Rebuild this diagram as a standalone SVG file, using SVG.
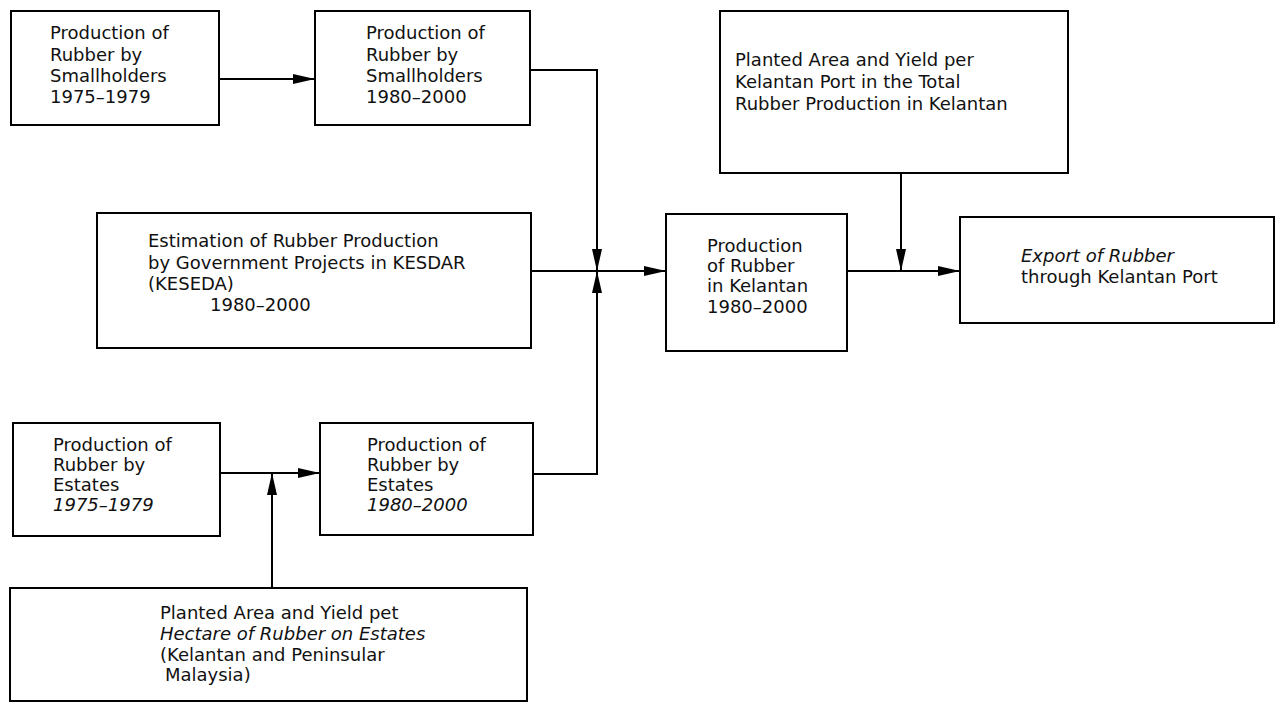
<svg xmlns="http://www.w3.org/2000/svg" width="1279" height="703" viewBox="0 0 1279 703">
<style>
.box{fill:#fff;stroke:#000;stroke-width:2}
.t{font-family:"DejaVu Sans","Liberation Sans",sans-serif;font-size:18px;fill:#111}
.i{font-style:italic}
.c{fill:none;stroke:#000;stroke-width:2}
</style>
<defs>
<marker id="ah" markerUnits="userSpaceOnUse" markerWidth="24" markerHeight="12" refX="22" refY="5" orient="auto">
<path d="M0,0 L22,5 L0,10 z" fill="#000"/>
</marker>
</defs>
<rect width="1279" height="703" fill="#fff"/>
<g id="connectors">
<path class="c" d="M219,79 H315" marker-end="url(#ah)"/>
<path class="c" d="M530,70 H597 V271" marker-end="url(#ah)"/>
<path class="c" d="M531,271 H666" marker-end="url(#ah)"/>
<path class="c" d="M533,474 H597 V271" marker-end="url(#ah)"/>
<path class="c" d="M220,473 H320" marker-end="url(#ah)"/>
<path class="c" d="M272,588 V473" marker-end="url(#ah)"/>
<path class="c" d="M847,271 H960" marker-end="url(#ah)"/>
<path class="c" d="M901,173 V271" marker-end="url(#ah)"/>
</g>
<g id="n1">
<rect class="box" x="11" y="11" width="208" height="114"/>
<text class="t" x="50" y="39">Production of</text>
<text class="t" x="50" y="61">Rubber by</text>
<text class="t" x="50" y="82">Smallholders</text>
<text class="t" x="50" y="103">1975–1979</text>
</g>
<g id="n2">
<rect class="box" x="315" y="11" width="215" height="114"/>
<text class="t" x="366" y="39">Production of</text>
<text class="t" x="366" y="61">Rubber by</text>
<text class="t" x="366" y="82">Smallholders</text>
<text class="t" x="366" y="103">1980–2000</text>
</g>
<g id="n3">
<rect class="box" x="720" y="11" width="348" height="162"/>
<text class="t" x="735" y="66">Planted Area and Yield per</text>
<text class="t" x="735" y="88">Kelantan Port in the Total</text>
<text class="t" x="735" y="110">Rubber Production in Kelantan</text>
</g>
<g id="n4">
<rect class="box" x="97" y="213" width="434" height="135"/>
<text class="t" x="148" y="247">Estimation of Rubber Production</text>
<text class="t" x="148" y="269">by Government Projects in KESDAR</text>
<text class="t" x="148" y="290">(KESEDA)</text>
<text class="t" x="210" y="311">1980–2000</text>
</g>
<g id="n5">
<rect class="box" x="666" y="214" width="181" height="137"/>
<text class="t" x="707" y="252">Production</text>
<text class="t" x="707" y="272">of Rubber</text>
<text class="t" x="707" y="292">in Kelantan</text>
<text class="t" x="707" y="313">1980–2000</text>
</g>
<g id="n6">
<rect class="box" x="960" y="217" width="314" height="106"/>
<text class="t i" x="1021" y="262">Export of Rubber</text>
<text class="t" x="1021" y="283">through Kelantan Port</text>
</g>
<g id="n7">
<rect class="box" x="13" y="423" width="207" height="113"/>
<text class="t" x="53" y="451">Production of</text>
<text class="t" x="53" y="471">Rubber by</text>
<text class="t" x="53" y="491">Estates</text>
<text class="t i" x="53" y="511">1975–1979</text>
</g>
<g id="n8">
<rect class="box" x="320" y="423" width="213" height="112"/>
<text class="t" x="367" y="451">Production of</text>
<text class="t" x="367" y="471">Rubber by</text>
<text class="t" x="367" y="491">Estates</text>
<text class="t i" x="367" y="511">1980–2000</text>
</g>
<g id="n9">
<rect class="box" x="10" y="588" width="517" height="113"/>
<text class="t" x="160" y="619">Planted Area and Yield pet</text>
<text class="t i" x="160" y="640">Hectare of Rubber on Estates</text>
<text class="t" x="160" y="661">(Kelantan and Peninsular</text>
<text class="t" x="165" y="681">Malaysia)</text>
</g>
</svg>
